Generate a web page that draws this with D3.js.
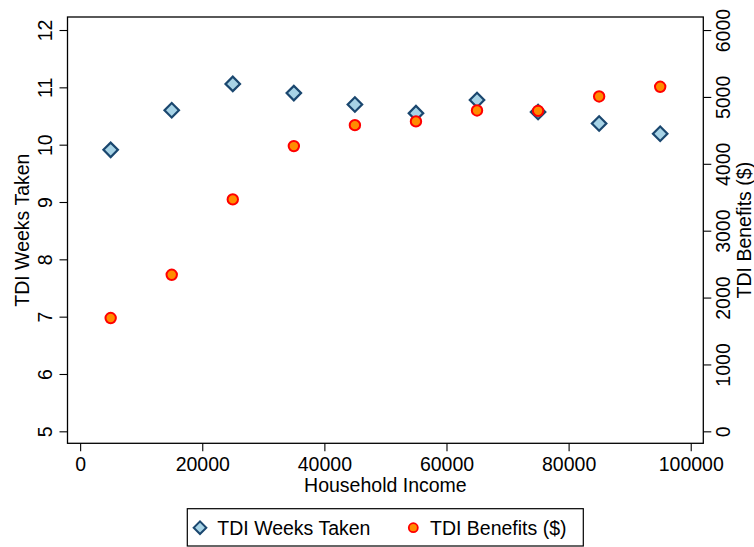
<!DOCTYPE html>
<html>
<head>
<meta charset="utf-8">
<script src="https://cdn.jsdelivr.net/npm/d3@7"></script>
<style>
  body { margin: 0; background: #fff; }
  text { font-family: "Liberation Sans", Arial, sans-serif; fill: #000; }
</style>
</head>
<body>
<svg id="chart" width="754" height="547"></svg>
<script>
// data
var income = [5000, 15000, 25000, 35000, 45000, 55000, 65000, 75000, 85000, 95000];
var weeksTaken = [9.91, 10.60, 11.06, 10.90, 10.70, 10.55, 10.78, 10.57, 10.37, 10.19];
var benefits = [1694, 2341, 3468, 4265, 4578, 4634, 4798, 4792, 5007, 5151];

var xTicks = [0, 20000, 40000, 60000, 80000, 100000];
var leftTicks = [5, 6, 7, 8, 9, 10, 11, 12];
var rightTicks = [0, 1000, 2000, 3000, 4000, 5000, 6000];

var svg = d3.select("#chart");
var pLeft = 67.5, pRight = 703.3, pTop = 17, pBottom = 443.3;

var x = d3.scaleLinear().domain([-2070, 102060]).range([pLeft, pRight]);
var yL = d3.scaleLinear().domain([4.791, 12.227]).range([pBottom, pTop]);
var yR = d3.scaleLinear().domain([-179, 6195]).range([pBottom, pTop]);

//frame of the plot
svg.append("rect")
    .attr("x", pLeft).attr("y", pTop)
    .attr("width", pRight - pLeft).attr("height", pBottom - pTop)
    .attr("fill", "none").attr("stroke", "#000").attr("stroke-width", 1.3);

//axes
var fs = "19.5px";
var xAxis = svg.append("g")
    .attr("transform", "translate(0," + pBottom + ")")
    .call(d3.axisBottom(x).tickValues(xTicks).tickSize(8).tickPadding(6).tickFormat(d3.format("d")));
xAxis.selectAll("text").attr("font-size", fs).attr("dy", "0.72em");

var lAxis = svg.append("g")
    .attr("transform", "translate(" + pLeft + ",0)")
    .call(d3.axisLeft(yL).tickValues(leftTicks).tickSize(8));
lAxis.selectAll("text")
    .attr("font-size", fs)
    .attr("x", null).attr("dy", null)
    .attr("text-anchor", "middle")
    .attr("transform", "translate(-15.5,0) rotate(-90)");

var rAxis = svg.append("g")
    .attr("transform", "translate(" + pRight + ",0)")
    .call(d3.axisRight(yR).tickValues(rightTicks).tickSize(8).tickFormat(d3.format("d")));
rAxis.selectAll("text")
    .attr("font-size", fs)
    .attr("x", null).attr("dy", null)
    .attr("text-anchor", "middle")
    .attr("transform", "translate(27,0) rotate(-90)");

[xAxis, lAxis, rAxis].forEach(function (g) {
    g.select(".domain").remove();
    g.selectAll("line").attr("stroke", "#000").attr("stroke-width", 1.1);
});

//axis titles
svg.append("text").attr("x", (pLeft + pRight) / 2).attr("y", 491.5)
    .attr("text-anchor", "middle").attr("font-size", fs).text("Household Income");
svg.append("text").attr("text-anchor", "middle").attr("font-size", fs)
    .attr("transform", "translate(28.5," + (pTop + pBottom) / 2 + ") rotate(-90)")
    .text("TDI Weeks Taken");
svg.append("text").attr("text-anchor", "middle").attr("font-size", fs)
    .attr("transform", "translate(750.5," + (pTop + pBottom) / 2 + ") rotate(-90)")
    .text("TDI Benefits ($)");

//markers
var diamond = d3.symbol().type(d3.symbolSquare).size(105);
var weeksColor = { fill: "#a7d3e6", stroke: "#1a476f" };
var benColor = { fill: "#ff8c00", stroke: "#ff0000" };

svg.append("g").selectAll("path")
    .data(income)
    .enter().append("path")
    .attr("d", diamond)
    .attr("transform", function (d, i) { return "translate(" + x(d) + "," + yL(weeksTaken[i]) + ") rotate(45)"; })
    .attr("fill", weeksColor.fill).attr("stroke", weeksColor.stroke).attr("stroke-width", 2.2);

svg.append("g").selectAll("circle")
    .data(income)
    .enter().append("circle")
    .attr("cx", function (d) { return x(d); })
    .attr("cy", function (d, i) { return yR(benefits[i]); })
    .attr("r", 5.2)
    .attr("fill", benColor.fill).attr("stroke", benColor.stroke).attr("stroke-width", 2);

//legend
var lg = svg.append("g");
lg.append("rect").attr("x", 187.3).attr("y", 508.7).attr("width", 396).attr("height", 37.3)
    .attr("fill", "#fff").attr("stroke", "#000").attr("stroke-width", 1.2);
lg.append("path").attr("d", d3.symbol().type(d3.symbolSquare).size(80))
    .attr("transform", "translate(200,527.7) rotate(45)")
    .attr("fill", weeksColor.fill).attr("stroke", weeksColor.stroke).attr("stroke-width", 2);
lg.append("text").attr("x", 217.3).attr("y", 535).attr("font-size", fs).text("TDI Weeks Taken");
lg.append("circle").attr("cx", 413.3).attr("cy", 527.7).attr("r", 4.5)
    .attr("fill", benColor.fill).attr("stroke", benColor.stroke).attr("stroke-width", 1.8);
lg.append("text").attr("x", 430).attr("y", 535).attr("font-size", fs).text("TDI Benefits ($)");
</script>
</body>
</html>
